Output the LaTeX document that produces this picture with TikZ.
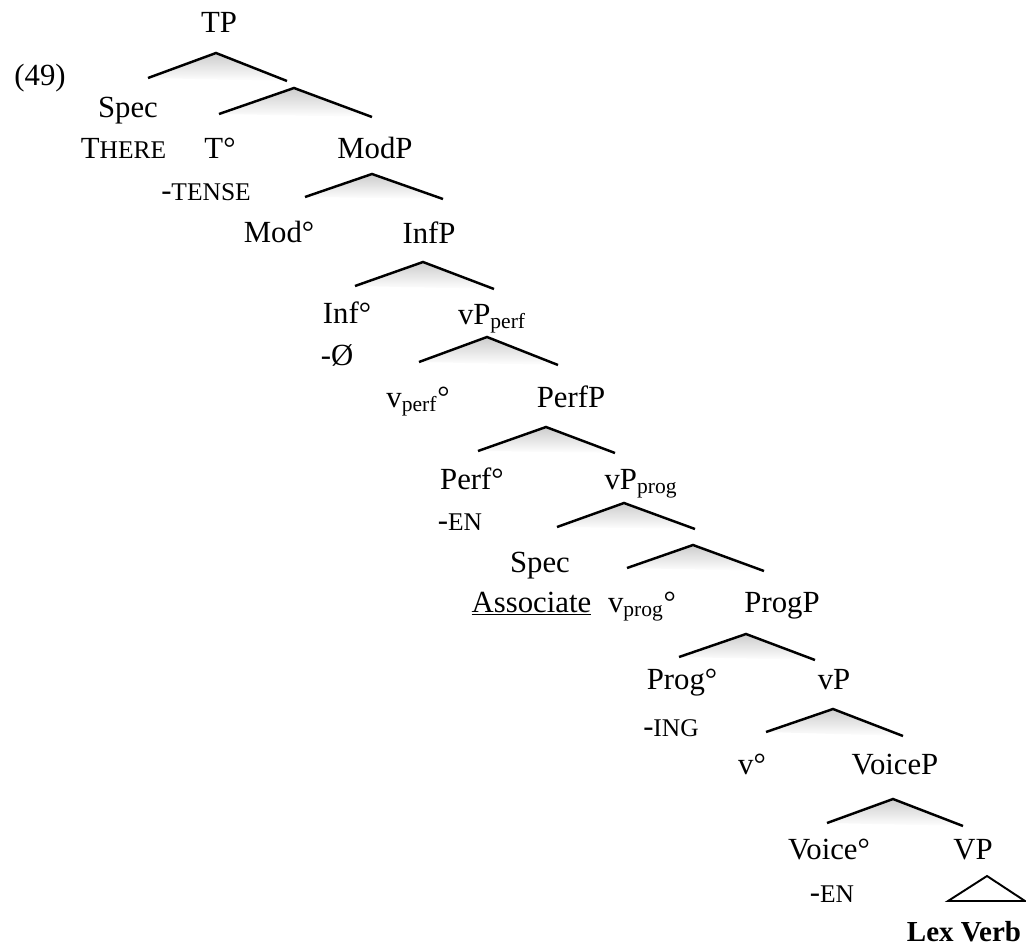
\documentclass[tikz,border=0pt]{standalone}
\usepackage{fontspec}
\setmainfont{Liberation Serif}
% small capitals, set by hand
\newcommand{\smc}[1]{{\fontsize{14.5}{16}\selectfont #1}}
\begin{document}
\begin{tikzpicture}[x=0.02cm, y=-0.02cm,
    lbl/.style={anchor=base, inner sep=0pt, font=\fontsize{17.5}{19}\selectfont},
    branch/.style={line width=1.4pt},
    roofshade/.style={top color=black!20, bottom color=white, draw=none}]
  \useasboundingbox (0,0) rectangle (1026,946);
  % roofs: name / apex / left end / right end
  \foreach \n/\ax/\ay/\lx/\ly/\rx/\ry in {
      tp/216/53/148/78/287/81, tbar/294/88/219/114/372/117,
      modp/372/174/305/197/443/199, infp/423/262/355/286/494/289,
      vperf/487/337/419/362/558/365, perfp/546/427/478/451/615/453,
      vprog/624/503/557/527/695/529, vbar/693/545/627/568/764/571,
      progp/746/634/679/657/815/660, vp/833/709/766/732/903/736,
      voicep/893/799/827/823/963/826}{
    \coordinate (\n-top) at (\ax,\ay);
    \coordinate (\n-l) at (\lx,\ly);
    \coordinate (\n-r) at (\rx,\ry);
    \shade[roofshade] (\n-l) -- (\n-top) -- (\n-r) -- cycle;
    \draw[branch] (\n-l) -- (\n-top) -- (\n-r);
  }
  % triangle under VP
  \coordinate (vpt-top) at (987,876);
  \coordinate (vpt-l) at (948,901);
  \coordinate (vpt-r) at (1025,901);
  \draw[line width=1.1pt] (vpt-top) -- (vpt-l) -- (vpt-r) -- cycle;
  % labels
  \node[lbl] (ex) at (40,86) {(49)};
  \node[lbl] (TP) at (219,33) {TP};
  \node[lbl] (spec1) at (128,117) {Spec};
  \node[lbl] (there) at (123.5,158) {T\smc{HERE}};
  \node[lbl] (T) at (220,158) {T°};
  \node[lbl] (tense) at (206,200) {-\smc{TENSE}};
  \node[lbl] (ModP) at (375,158) {ModP};
  \node[lbl] (Mod) at (279,242) {Mod°};
  \node[lbl] (InfP) at (429,243) {InfP};
  \node[lbl] (Inf) at (347,323) {Inf°};
  \node[lbl] (vPperf) at (492,324) {vP\textsubscript{perf}};
  \node[lbl] (null) at (337,365) {-Ø};
  \node[lbl] (vperf) at (418,407) {v\textsubscript{perf}°};
  \node[lbl] (PerfP) at (571,407) {PerfP};
  \node[lbl] (Perf) at (472,489) {Perf°};
  \node[lbl] (vPprog) at (641,489) {vP\textsubscript{prog}};
  \node[lbl] (en1) at (460,530) {-\smc{EN}};
  \node[lbl] (spec2) at (540,572) {Spec};
  \node[lbl] (assoc) at (531.5,612) {\underline{Associate}};
  \node[lbl] (vprog) at (642,612) {v\textsubscript{prog}°};
  \node[lbl] (ProgP) at (782,612) {ProgP};
  \node[lbl] (Prog) at (682,689) {Prog°};
  \node[lbl] (vP) at (834,689) {vP};
  \node[lbl] (ing) at (671,736) {-\smc{ING}};
  \node[lbl] (v) at (752,774) {v°};
  \node[lbl] (VoiceP) at (895,774) {VoiceP};
  \node[lbl] (Voice) at (829,859) {Voice°};
  \node[lbl] (VP) at (973,859) {VP};
  \node[lbl] (en2) at (832,902) {-\smc{EN}};
  \node[lbl, font=\fontsize{16.5}{18}\selectfont] (lex) at (964,941) {\textbf{Lex Verb}};
\end{tikzpicture}
\end{document}
